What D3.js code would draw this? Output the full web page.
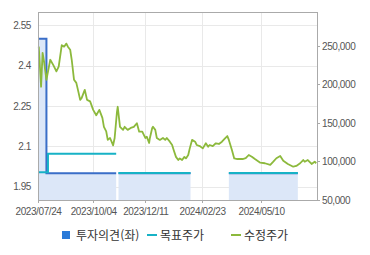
<!DOCTYPE html>
<html lang="ko">
<head>
<meta charset="UTF-8">
<title>투자의견 / 목표주가 / 수정주가</title>
<style>
    body { margin: 0; background: #fff; }
    svg text { font-family: "Liberation Sans", Arial, sans-serif; }
    .axis text { fill: #555; font-size: 10px; letter-spacing: -0.4px; }
    .axis path, .axis line { stroke: #aaa; shape-rendering: crispEdges; }
    .grid line { stroke: #e9e9e9; shape-rendering: crispEdges; }
    .legend text { fill: #333; font-size: 12px; font-family: "Noto Sans CJK KR", sans-serif; }
</style>
</head>
<body>
<script src="https://d3js.org/d3.v7.min.js"></script>
<script>
    // axis ticks
    var xTickDates = ["2023-07-24", "2023-10-04", "2023-12-11", "2024-02-23", "2024-05-10"];
    var leftTicks = [1.95, 2.1, 2.25, 2.4, 2.55];
    var rightTicks = [50000, 100000, 150000, 200000, 250000];

    // 투자의견 (left axis), periods
    var opinionStart = ["2023-07-24", "2023-08-04", "2023-11-06", "2024-03-29"];
    var opinionEnd   = ["2023-08-04", "2023-11-03", "2024-02-08", "2024-06-27"];
    var opinionValue = [2.5, 2.0, 2.0, 2.0];

    // 목표주가 (right axis), periods
    var targetStart = ["2023-07-24", "2023-08-06", "2023-11-06", "2024-03-29"];
    var targetEnd   = ["2023-08-06", "2023-11-03", "2024-02-08", "2024-06-27"];
    var targetValue = [86000, 110000, 85000, 85000];

    // 수정주가 (right axis)
    var priceDates = [
        "2023-07-25", "2023-07-28", "2023-07-30", "2023-08-01", "2023-08-04", "2023-08-09", "2023-08-13",
        "2023-08-17", "2023-08-20", "2023-08-24", "2023-08-27", "2023-08-30", "2023-09-01", "2023-09-04",
        "2023-09-06", "2023-09-09", "2023-09-12", "2023-09-15", "2023-09-17", "2023-09-19", "2023-09-23",
        "2023-09-26", "2023-09-30", "2023-10-04", "2023-10-08", "2023-10-12", "2023-10-16", "2023-10-18",
        "2023-10-21", "2023-10-23", "2023-10-26", "2023-10-30", "2023-11-01", "2023-11-04", "2023-11-05",
        "2023-11-08", "2023-11-12", "2023-11-14", "2023-11-18", "2023-11-22", "2023-11-26", "2023-11-30",
        "2023-12-03", "2023-12-07", "2023-12-11", "2023-12-13", "2023-12-16", "2023-12-17", "2023-12-20",
        "2023-12-21", "2023-12-24", "2023-12-26", "2023-12-30", "2024-01-03", "2024-01-06", "2024-01-08",
        "2024-01-12", "2024-01-15", "2024-01-17", "2024-01-20", "2024-01-23", "2024-01-25", "2024-01-28",
        "2024-01-31", "2024-02-02", "2024-02-05", "2024-02-07", "2024-02-10", "2024-02-14", "2024-02-16",
        "2024-02-20", "2024-02-24", "2024-02-28", "2024-03-02", "2024-03-04", "2024-03-08", "2024-03-12",
        "2024-03-16", "2024-03-20", "2024-03-24", "2024-03-27", "2024-03-29", "2024-04-02", "2024-04-05",
        "2024-04-09", "2024-04-16", "2024-04-20", "2024-04-24", "2024-04-28", "2024-05-02", "2024-05-09",
        "2024-05-15", "2024-05-22", "2024-05-26", "2024-05-30", "2024-06-04", "2024-06-08", "2024-06-14",
        "2024-06-21", "2024-06-25", "2024-06-30", "2024-07-04", "2024-07-06", "2024-07-10", "2024-07-15",
        "2024-07-19", "2024-07-21"
    ];
    var priceValues = [
        249000, 197000, 241000, 229000, 206000, 232000, 225000,
        217000, 223000, 251000, 249000, 253000, 249000, 245000,
        232000, 206000, 202000, 189000, 180000, 182500, 193000,
        180000, 178000, 167000, 160000, 167000, 156500, 145000,
        139000, 128000, 130500, 121000, 130500, 164000, 171000,
        145000, 141000, 145000, 141000, 143500, 145000, 149600,
        138700, 138700, 130500, 132000, 124000, 130500, 143500,
        145000, 141000, 130500, 128000, 130500, 128000, 130500,
        125700, 121400, 115000, 106000, 102000, 104000, 102000,
        106000, 104000, 108400, 117000, 128000, 125700, 121400,
        120000, 117000, 123600, 119200, 121400, 120000, 123600,
        122700, 125700, 130000, 133000, 128000, 115000, 104000,
        103200, 103200, 104200, 108400, 106200, 103200, 98400,
        97700, 95500, 99700, 104200, 107100, 101000, 96800,
        93200, 94200, 97700, 101900, 99700, 101900, 96800,
        99700, 97700
    ];

    var margin = {top: 12, right: 53, bottom: 55, left: 38},
        width = 370 - margin.left - margin.right,
        height = 255 - margin.top - margin.bottom;

    var parse = d3.timeParse("%Y-%m-%d");

    var svg = d3.select("body").append("svg")
        .attr("width", 370)
        .attr("height", 255);

    var g = svg.append("g")
        .attr("transform", "translate(" + margin.left + "," + margin.top + ")");

    var x = d3.scaleTime()
        .domain([parse("2023-07-24"), parse("2024-07-22")])
        .range([0, width]);
    var yL = d3.scaleLinear().domain([1.9, 2.6]).range([height, 0]);
    var yR = d3.scaleLinear().domain([50000, 294000]).range([height, 0]);

    // turn periods into runs of step points (contiguous periods are joined)
    function stepRuns(starts, ends, vals) {
        var runs = [], cur = null;
        for (var i = 0; i < starts.length; i++) {
            if (!(cur && starts[i] === ends[i - 1])) {
                cur = [];
                runs.push(cur);
            }
            cur.push({d: parse(starts[i]), v: vals[i]});
            cur.push({d: parse(ends[i]), v: vals[i]});
        }
        return runs;
    }

    // grid
    var grid = g.append("g").attr("class", "grid");
    grid.selectAll(".gh").data(leftTicks).enter().append("line")
        .attr("x1", 0).attr("x2", width)
        .attr("y1", function(d) { return Math.round(yL(d)) + 0.5; })
        .attr("y2", function(d) { return Math.round(yL(d)) + 0.5; });
    grid.selectAll(".gv").data(xTickDates).enter().append("line")
        .attr("y1", 0).attr("y2", height)
        .attr("x1", function(d) { return Math.round(x(parse(d))) + 0.5; })
        .attr("x2", function(d) { return Math.round(x(parse(d))) + 0.5; });

    var opinionRuns = stepRuns(opinionStart, opinionEnd, opinionValue);
    var targetRuns = stepRuns(targetStart, targetEnd, targetValue);

    var area = d3.area()
        .x(function(d) { return x(d.d); })
        .y0(height)
        .y1(function(d) { return yL(d.v); });
    var opLine = d3.line()
        .x(function(d) { return x(d.d); })
        .y(function(d) { return yL(d.v); });
    var tgLine = d3.line()
        .x(function(d) { return x(d.d); })
        .y(function(d) { return yR(d.v); });

    g.selectAll(".op-area").data(opinionRuns).enter().append("path")
        .attr("d", area)
        .attr("fill", "#dce7f8");
    g.selectAll(".op-line").data(opinionRuns).enter().append("path")
        .attr("d", opLine)
        .attr("fill", "none")
        .attr("stroke", "#3a6ec8")
        .attr("stroke-width", 2);
    g.selectAll(".tg-line").data(targetRuns).enter().append("path")
        .attr("d", tgLine)
        .attr("fill", "none")
        .attr("stroke", "#17b2c6")
        .attr("stroke-width", 2);

    var price = priceDates.map(function(d, i) { return {d: parse(d), v: priceValues[i]}; });
    g.append("path")
        .datum(price)
        .attr("d", tgLine)
        .attr("fill", "none")
        .attr("stroke", "#8cb93c")
        .attr("stroke-width", 1.8)
        .attr("stroke-linejoin", "round");

    // frame
    g.append("rect")
        .attr("x", 0.5).attr("y", 0.5)
        .attr("width", width).attr("height", height)
        .attr("fill", "none")
        .attr("stroke", "#aaa")
        .attr("shape-rendering", "crispEdges");

    // axes
    g.append("g")
        .attr("class", "axis")
        .call(d3.axisLeft(yL).tickValues(leftTicks).tickSize(0).tickPadding(7)
            .tickFormat(function(d) { return String(d); }))
        .select(".domain").remove();

    g.append("g")
        .attr("class", "axis")
        .attr("transform", "translate(" + width + ",0)")
        .call(d3.axisRight(yR).tickValues(rightTicks).tickSize(3).tickPadding(2)
            .tickFormat(d3.format(",")))
        .select(".domain").remove();

    g.append("g")
        .attr("class", "axis")
        .attr("transform", "translate(0," + height + ")")
        .call(d3.axisBottom(x).tickValues(xTickDates.map(parse)).tickSize(3).tickPadding(5)
            .tickFormat(d3.timeFormat("%Y/%m/%d")))
        .select(".domain").remove();

    // legend
    var legend = svg.append("g").attr("class", "legend");
    legend.append("rect")
        .attr("x", 62).attr("y", 231).attr("width", 8).attr("height", 8)
        .attr("fill", "#2a7ad8");
    legend.append("text").attr("x", 76).attr("y", 239.5).text("투자의견(좌)");
    legend.append("line")
        .attr("x1", 147).attr("x2", 157).attr("y1", 235).attr("y2", 235)
        .attr("stroke", "#17b2c6").attr("stroke-width", 2);
    legend.append("text").attr("x", 160).attr("y", 239.5).text("목표주가");
    legend.append("line")
        .attr("x1", 231).attr("x2", 241).attr("y1", 235).attr("y2", 235)
        .attr("stroke", "#8cb93c").attr("stroke-width", 2);
    legend.append("text").attr("x", 244).attr("y", 239.5).text("수정주가");
</script>
</body>
</html>
